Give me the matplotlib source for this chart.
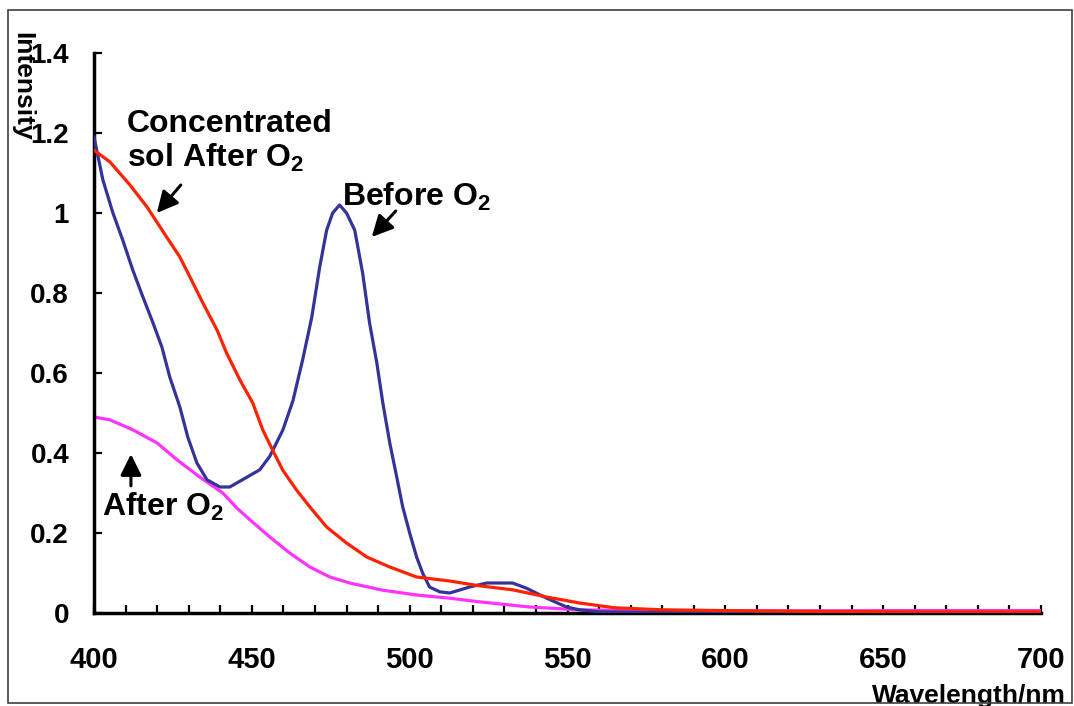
import matplotlib
matplotlib.use("Agg")
import matplotlib.pyplot as plt
from matplotlib.patches import Rectangle
from matplotlib.ticker import MultipleLocator, FixedLocator, FixedFormatter

# ----------------------------------------------------------------
#  Data
# ----------------------------------------------------------------
before_wl = [400, 402.8, 406, 409.2, 412.3, 415.5, 418.7, 421.5, 424, 427.2,
             429.7, 432.6, 435.8, 439.9, 443, 447, 452.5, 455.7, 459.8, 463,
             466.1, 469, 471.5, 473.7, 475.6, 477.8, 480, 482.6, 485.1, 487.3,
             489.6, 491.5, 493.7, 495.9, 497.8, 500, 502.2, 504.1, 506.3, 509.5,
             512.7, 519, 524.4, 532.6, 537, 543.4, 549.7, 553.8, 560, 580,
             620, 660, 700]
before_o2 = [1.19, 1.083, 1.0, 0.93, 0.857, 0.79, 0.725, 0.665, 0.59, 0.515,
             0.44, 0.375, 0.333, 0.315, 0.315, 0.333, 0.358, 0.392, 0.457, 0.53,
             0.633, 0.74, 0.865, 0.957, 1.0, 1.02, 1.0, 0.957, 0.85, 0.725,
             0.625, 0.525, 0.425, 0.34, 0.265, 0.2, 0.14, 0.1, 0.065, 0.053,
             0.05, 0.065, 0.075, 0.075, 0.062, 0.037, 0.015, 0.008, 0.003, 0.001,
             0.0, 0.0, 0.0]

conc_wl = [400, 405, 411.4, 416.8, 423, 427.2, 430.4, 434.5, 439, 442,
           446.2, 450.3, 453.5, 456.6, 459.8, 464.2, 468.4, 473.7, 480, 486.4,
           493.7, 502.2, 512.7, 522, 532.6, 543.4, 553.8, 565, 580, 600,
           630, 660, 700]
conc_after_o2 = [1.157, 1.128, 1.07, 1.015, 0.94, 0.89, 0.84, 0.775, 0.707, 0.65,
                 0.583, 0.525, 0.457, 0.407, 0.357, 0.307, 0.265, 0.215, 0.175, 0.14,
                 0.115, 0.09, 0.08, 0.068, 0.058, 0.04, 0.025, 0.013, 0.008, 0.006,
                 0.004, 0.003, 0.003]

after_wl = [400, 405, 412.3, 420, 426.3, 433.5, 440.8, 445.3, 449.4, 455.7,
            462, 468.4, 474.7, 481, 491.5, 502.2, 512.7, 522, 538, 553.8,
            570, 600, 650, 700]
after_o2 = [0.49, 0.483, 0.458, 0.425, 0.383, 0.34, 0.3, 0.262, 0.233, 0.19,
            0.15, 0.115, 0.09, 0.075, 0.057, 0.045, 0.037, 0.028, 0.015, 0.008,
            0.006, 0.005, 0.006, 0.006]

y_ticks = [0, 0.2, 0.4, 0.6, 0.8, 1.0, 1.2, 1.4]
y_tick_labels = ["0", "0.2", "0.4", "0.6", "0.8", "1", "1.2", "1.4"]

# ----------------------------------------------------------------
#  Style
# ----------------------------------------------------------------
plt.rcParams["font.family"] = ["Liberation Sans", "DejaVu Sans"]
plt.rcParams["font.weight"] = "bold"
plt.rcParams["mathtext.fontset"] = "custom"
plt.rcParams["mathtext.rm"] = "Liberation Sans:bold"
plt.rcParams["mathtext.bf"] = "Liberation Sans:bold"
plt.rcParams["mathtext.it"] = "Liberation Sans:bold"
plt.rcParams["mathtext.default"] = "rm"

W, H = 1074, 706
fig = plt.figure(figsize=(W / 100, H / 100), dpi=100)
ax = fig.add_axes([94 / W, 1 - 613 / H, (1041 - 94) / W, (613 - 53) / H])

# ----------------------------------------------------------------
#  Curves
# ----------------------------------------------------------------
ax.plot(after_wl, after_o2, color="#ff33ff", lw=2.3, zorder=2)
ax.plot(before_wl, before_o2, color="#333399", lw=2.3, zorder=3)
ax.plot(conc_wl, conc_after_o2, color="#ff2200", lw=2.3, zorder=4)

ax.set_xlim(400, 700)
ax.set_ylim(0, 1.4)

# axes look
for side in ("top", "right"):
    ax.spines[side].set_visible(False)
for side in ("left", "bottom"):
    ax.spines[side].set_linewidth(2.5)

ax.xaxis.set_major_locator(MultipleLocator(50))
ax.xaxis.set_minor_locator(MultipleLocator(10))
ax.yaxis.set_major_locator(FixedLocator(y_ticks))
ax.yaxis.set_major_formatter(FixedFormatter(y_tick_labels))
ax.tick_params(axis="x", which="both", direction="in", length=6, width=1.6,
               labelsize=21, pad=24)
ax.tick_params(axis="y", which="major", direction="in", length=6, width=1.6,
               labelsize=20, pad=18)
for lbl in ax.get_xticklabels() + ax.get_yticklabels():
    lbl.set_fontweight("bold")

# ----------------------------------------------------------------
#  Annotations
# ----------------------------------------------------------------
txt = dict(fontsize=23, fontweight="bold", ha="left", va="top")
ax.text(410.5, 1.26, "Concentrated\nsol After O$_2$", linespacing=1.1, **txt)
ax.text(478.6, 1.08, "Before O$_2$", **txt)
ax.text(402.6, 0.305, "After O$_2$", **txt)

arrow = dict(arrowstyle="-|>", color="black", lw=2.2, mutation_scale=32,
             shrinkA=0, shrinkB=0)
ax.annotate("", xy=(419.9, 1.0), xytext=(427.5, 1.07), arrowprops=arrow)
ax.annotate("", xy=(488.0, 0.94), xytext=(495.6, 1.005), arrowprops=arrow)
ax.annotate("", xy=(411.7, 0.397), xytext=(411.7, 0.318), arrowprops=arrow)

# axis titles placed like the original
fig.text(22 / W, 1 - 86 / H, "Intensity", rotation=-90, fontsize=19,
         fontweight="bold", ha="center", va="center")
fig.text(1066 / W, 3 / H, "Wavelength/nm", fontsize=19, fontweight="bold",
         ha="right", va="baseline")

# outer frame
fig.patches.append(Rectangle((8 / W, 3 / H), (1072 - 8) / W, (703 - 10) / H,
                             transform=fig.transFigure, fill=False,
                             edgecolor="#404040", lw=1.2, zorder=10))

fig.savefig("out.png", dpi=100)
